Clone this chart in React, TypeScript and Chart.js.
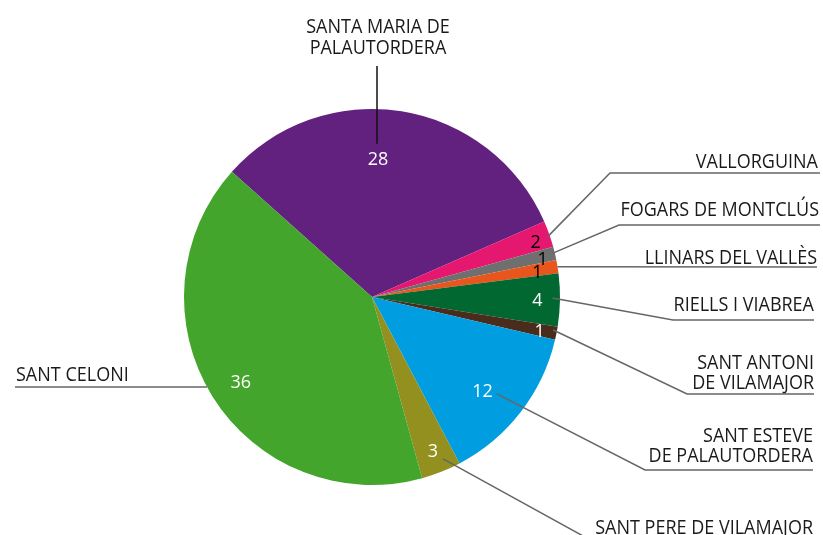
import React, { useEffect, useRef } from "react";
import { Chart, registerables } from "chart.js";

Chart.register(...registerables);

// ---- data ----
const categories = [
  "SANTA MARIA DE\nPALAUTORDERA",
  "VALLORGUINA",
  "FOGARS DE MONTCLÚS",
  "LLINARS DEL VALLÈS",
  "RIELLS I VIABREA",
  "SANT ANTONI\nDE VILAMAJOR",
  "SANT ESTEVE\nDE PALAUTORDERA",
  "SANT PERE DE VILAMAJOR",
  "SANT CELONI",
];
const values = [28, 2, 1, 1, 4, 1, 12, 3, 36];
const colors = [
  "#62217f",
  "#e5176f",
  "#6f6f6f",
  "#e8561e",
  "#006830",
  "#4a2c1d",
  "#009ee0",
  "#93901f",
  "#43a52b",
];
const valueTextColors = ["#fff", "#000", "#000", "#000", "#fff", "#fff", "#fff", "#fff", "#fff"];

// ---- layout (annotation styling, not data) ----
// value label: angular shift (deg) from slice mid-angle, radius fraction
const valueLayout = [
  { shift: -6.6, frac: 0.735 },
  { shift: 0.7, frac: 0.92 },
  { shift: 0.7, frac: 0.93 },
  { shift: 0.4, frac: 0.89 },
  { shift: 0.0, frac: 0.88 },
  { shift: 0.3, frac: 0.91 },
  { shift: 2.5, frac: 0.77 },
  { shift: 0.0, frac: 0.88 },
  { shift: -0.9, frac: 0.83 },
];
// leader line: start on the slice, then pass through these points
const leaderLayout = [
  { shift: -7.2, frac: 0.815, color: "#111", path: [[377, 66]] },
  { shift: 0.7, frac: 0.985, color: "#666", path: [[610, 173], [820, 173]] },
  { shift: -0.2, frac: 0.99, color: "#666", path: [[619, 225], [820, 225]] },
  { shift: 0.1, frac: 1.0, color: "#666", path: [[817, 267]] },
  { shift: -0.6, frac: 0.96, color: "#666", path: [[673, 320], [814, 320]] },
  { shift: -0.8, frac: 0.98, color: "#666", path: [[687, 394], [814, 394]] },
  { shift: 0.1, frac: 0.84, color: "#666", path: [[645, 470], [813, 470]] },
  { shift: -2.1, frac: 0.94, color: "#666", path: [[594, 542], [813, 542]] },
  { shift: 3.2, frac: 1.0, color: "#666", path: [[15, 387]] },
];
// category text: alignment, x anchor, vertical centres of each line
const textLayout = [
  { align: "center", x: 378, ys: [26, 47] },
  { align: "right", x: 818, ys: [161] },
  { align: "right", x: 819, ys: [209] },
  { align: "right", x: 817, ys: [257] },
  { align: "right", x: 814, ys: [304] },
  { align: "right", x: 814, ys: [362, 382] },
  { align: "right", x: 813, ys: [435, 455] },
  { align: "right", x: 813, ys: [527] },
  { align: "left", x: 16, ys: [374] },
];

const FONT = '"Open Sans", "Noto Sans", sans-serif';

const labelPlugin = {
  id: "pieLabels",
  afterDatasetsDraw(chart: any) {
    const ctx = chart.ctx as CanvasRenderingContext2D;
    const meta = chart.getDatasetMeta(0);
    const arcs = meta.data;
    const d2r = Math.PI / 180;

    // leader lines
    arcs.forEach((arc: any, i: number) => {
      const p = arc.getProps(["x", "y", "startAngle", "endAngle", "outerRadius"], true);
      const mid = (p.startAngle + p.endAngle) / 2;
      const L = leaderLayout[i];
      const a = mid + L.shift * d2r;
      const sx = p.x + Math.cos(a) * p.outerRadius * L.frac;
      const sy = p.y + Math.sin(a) * p.outerRadius * L.frac;
      ctx.save();
      ctx.strokeStyle = L.color;
      ctx.lineWidth = 1.5;
      ctx.beginPath();
      ctx.moveTo(sx, sy);
      L.path.forEach(([px, py]) => ctx.lineTo(px, py));
      ctx.stroke();
      ctx.restore();
    });

    // value labels
    arcs.forEach((arc: any, i: number) => {
      const p = arc.getProps(["x", "y", "startAngle", "endAngle", "outerRadius"], true);
      const mid = (p.startAngle + p.endAngle) / 2;
      const V = valueLayout[i];
      const a = mid + V.shift * d2r;
      const vx = p.x + Math.cos(a) * p.outerRadius * V.frac;
      const vy = p.y + Math.sin(a) * p.outerRadius * V.frac;
      ctx.save();
      ctx.font = `18px ${FONT}`;
      ctx.fillStyle = valueTextColors[i];
      ctx.textAlign = "center";
      ctx.textBaseline = "alphabetic";
      ctx.fillText(String(values[i]), vx, vy + 6.5);
      ctx.restore();
    });

    // category texts
    categories.forEach((cat, i) => {
      const T = textLayout[i];
      const lines = cat.split("\n");
      lines.forEach((line, j) => {
        ctx.save();
        ctx.font = `20px ${FONT}`;
        ctx.fillStyle = "#1a1a1a";
        ctx.textAlign = T.align as CanvasTextAlign;
        ctx.textBaseline = "alphabetic";
        ctx.translate(T.x, T.ys[j] + 7);
        ctx.scale(0.9, 1);
        ctx.fillText(line, 0, 0);
        ctx.restore();
      });
    });
  },
};

export default function App() {
  const ref = useRef<HTMLCanvasElement | null>(null);
  useEffect(() => {
    document.body.style.margin = "0";
    if (!ref.current) return;
    const chart = new Chart(ref.current, {
      type: "pie",
      data: {
        labels: categories,
        datasets: [
          {
            data: values,
            backgroundColor: colors,
            borderWidth: 0,
          },
        ],
      },
      options: {
        responsive: false,
        animation: false,
        rotation: -48.2,
        layout: { padding: { left: 184, right: 263, top: 109, bottom: 50 } },
        plugins: {
          legend: { display: false },
          tooltip: { enabled: false },
        },
      },
      plugins: [labelPlugin],
    });
    return () => chart.destroy();
  }, []);
  return (
    <div style={{ width: 823, height: 535, background: "#fff" }}>
      <canvas ref={ref} width={823} height={535} style={{ display: "block" }} />
    </div>
  );
}
